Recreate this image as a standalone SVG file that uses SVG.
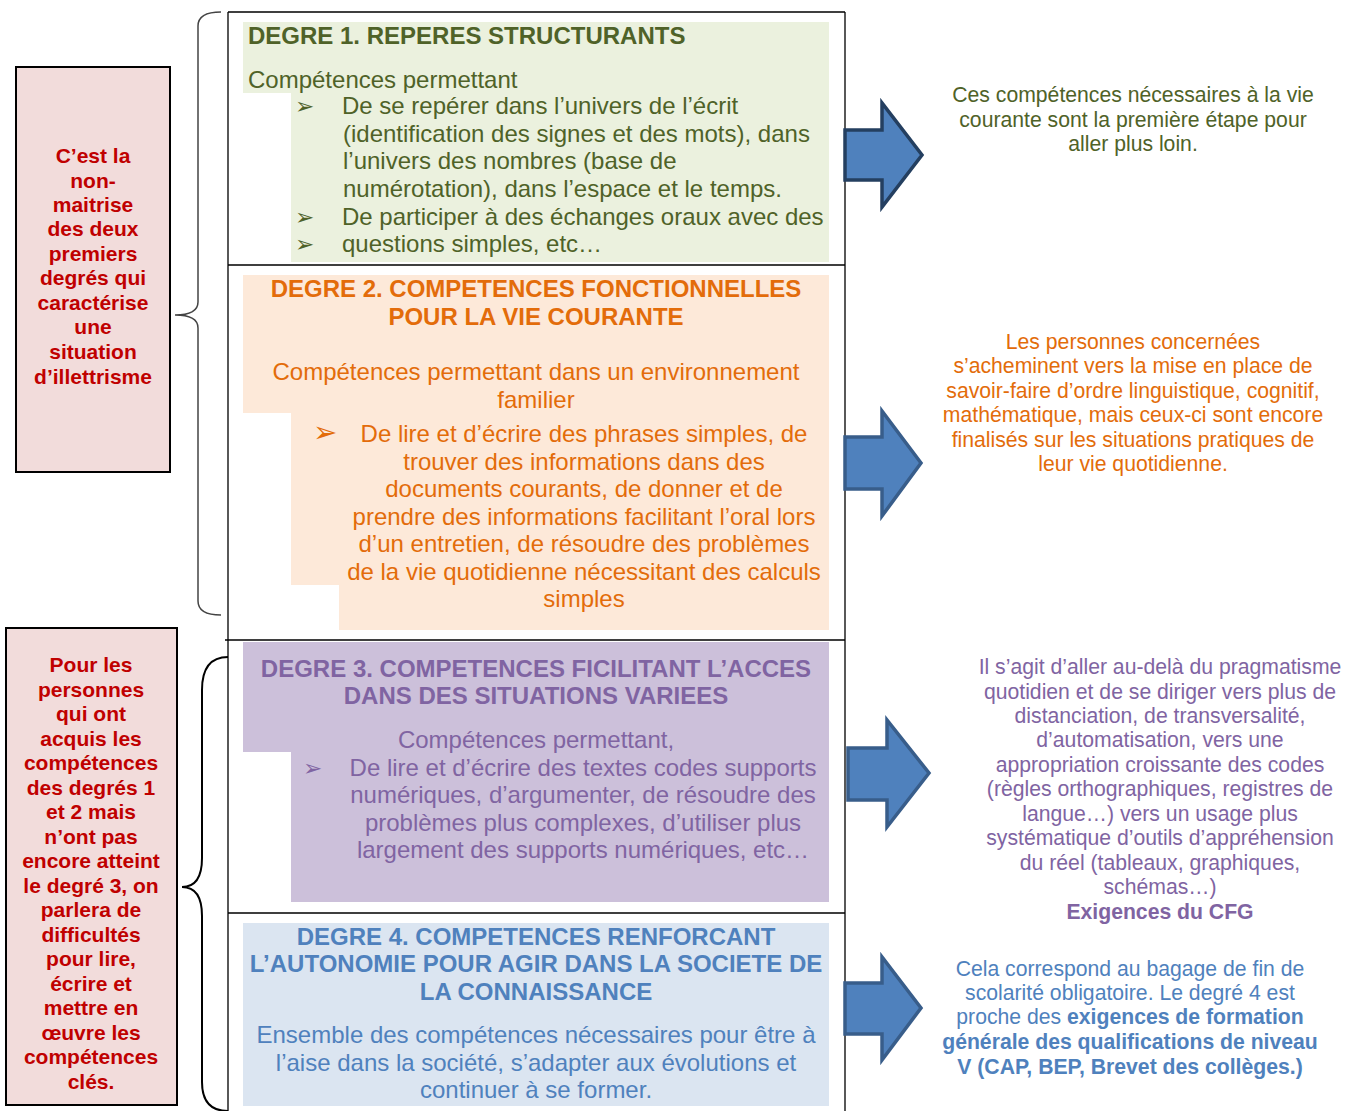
<svg xmlns="http://www.w3.org/2000/svg" width="1361" height="1111" viewBox="0 0 1361 1111">
<style>
text{font-family:"Liberation Sans",Arial,sans-serif}
.t{font-size:24px}
.h{font-size:24px;font-weight:bold}
.c{text-anchor:middle}
.r{font-size:21.2px;text-anchor:middle}
.l{font-size:21px;font-weight:bold;fill:#c00000;text-anchor:middle}
.bul{font-family:"DejaVu Sans",sans-serif;font-size:23px}
.g{fill:#4f6228}.o{fill:#e36c0a}.p{fill:#8064a2}.b{fill:#4f81bd}
.arrow{fill:#4f81bd;stroke:#385d8a;stroke-width:3.5;stroke-linejoin:miter}
.tbl{stroke:#000;stroke-width:1.3;fill:none}
</style>
<rect width="1361" height="1111" fill="#fff"/>

<g id="table-frame" class="tbl">
<path d="M228,12 H845 M228,12 V1111 M845,12 V1111 M228,265 H845 M225,640 H845 M228,913 H845"/>
</g>

<g id="degre1">
<path d="M243,22 H829 V262 H291 V93 H243 Z" fill="#ebf1de"/>
<text class="h g" x="248" y="44">DEGRE 1. REPERES STRUCTURANTS</text>
<text class="t g" x="248" y="88">Compétences permettant</text>
<text class="bul g" x="295" y="114">➢</text>
<text class="t g" x="342" y="114">De se repérer dans l’univers de l’écrit</text>
<text class="t g" x="343" y="142">(identification des signes et des mots), dans</text>
<text class="t g" x="343" y="169">l’univers des nombres (base de</text>
<text class="t g" x="343" y="197">numérotation), dans l’espace et le temps.</text>
<text class="bul g" x="295" y="225">➢</text>
<text class="t g" x="342" y="225">De participer à des échanges oraux avec des</text>
<text class="bul g" x="295" y="252">➢</text>
<text class="t g" x="342" y="252">questions simples, etc…</text>
</g>

<g id="degre2">
<path d="M243,275 H829 V630 H339 V585 H291 V413 H243 Z" fill="#fde9d9"/>
<text class="h o c" x="536" y="297">DEGRE 2. COMPETENCES FONCTIONNELLES</text>
<text class="h o c" x="536" y="325">POUR LA VIE COURANTE</text>
<text class="t o c" x="536" y="380">Compétences permettant dans un environnement</text>
<text class="t o c" x="536" y="408">familier</text>
<text class="bul o" x="313" y="442" style="font-size:29px">➢</text>
<text class="t o c" x="584" y="442">De lire et d’écrire des phrases simples, de</text>
<text class="t o c" x="584" y="470">trouver des informations dans des</text>
<text class="t o c" x="584" y="497">documents courants, de donner et de</text>
<text class="t o c" x="584" y="525">prendre des informations facilitant l’oral lors</text>
<text class="t o c" x="584" y="552">d’un entretien, de résoudre des problèmes</text>
<text class="t o c" x="584" y="580">de la vie quotidienne nécessitant des calculs</text>
<text class="t o c" x="584" y="607">simples</text>
</g>

<g id="degre3">
<path d="M243,642 H829 V902 H291 V752 H243 Z" fill="#ccc0da"/>
<text class="h p c" x="536" y="677">DEGRE 3. COMPETENCES FICILITANT L’ACCES</text>
<text class="h p c" x="536" y="704">DANS DES SITUATIONS VARIEES</text>
<text class="t p c" x="536" y="748">Compétences permettant,</text>
<text class="bul p" x="303" y="776">➢</text>
<text class="t p c" x="583" y="776">De lire et d’écrire des textes codes supports</text>
<text class="t p c" x="583" y="803">numériques, d’argumenter, de résoudre des</text>
<text class="t p c" x="583" y="831">problèmes plus complexes, d’utiliser plus</text>
<text class="t p c" x="583" y="858">largement des supports numériques, etc…</text>
</g>

<g id="degre4">
<rect x="243" y="923" width="586" height="183" fill="#dbe5f1"/>
<text class="h b c" x="536" y="945">DEGRE 4. COMPETENCES RENFORCANT</text>
<text class="h b c" x="536" y="972">L’AUTONOMIE POUR AGIR DANS LA SOCIETE DE</text>
<text class="h b c" x="536" y="1000">LA CONNAISSANCE</text>
<text class="t b c" x="536" y="1043">Ensemble des compétences nécessaires pour être à</text>
<text class="t b c" x="536" y="1071">l’aise dans la société, s’adapter aux évolutions et</text>
<text class="t b c" x="536" y="1098">continuer à se former.</text>
</g>

<g id="note-illettrisme">
<rect x="16" y="67" width="154" height="405" fill="#f2dcdb" stroke="#000" stroke-width="2"/>
<text class="l" x="93" y="163">C’est la</text>
<text class="l" x="93" y="188">non-</text>
<text class="l" x="93" y="212">maitrise</text>
<text class="l" x="93" y="236">des deux</text>
<text class="l" x="93" y="261">premiers</text>
<text class="l" x="93" y="285">degrés qui</text>
<text class="l" x="93" y="310">caractérise</text>
<text class="l" x="93" y="334">une</text>
<text class="l" x="93" y="359">situation</text>
<text class="l" x="93" y="384">d’illettrisme</text>
</g>

<g id="note-difficultes">
<rect x="6" y="628" width="171" height="477" fill="#f2dcdb" stroke="#000" stroke-width="2"/>
<text class="l" x="91" y="672">Pour les</text>
<text class="l" x="91" y="697">personnes</text>
<text class="l" x="91" y="721">qui ont</text>
<text class="l" x="91" y="746">acquis les</text>
<text class="l" x="91" y="770">compétences</text>
<text class="l" x="91" y="795">des degrés 1</text>
<text class="l" x="91" y="819">et 2 mais</text>
<text class="l" x="91" y="844">n’ont pas</text>
<text class="l" x="91" y="868">encore atteint</text>
<text class="l" x="91" y="893">le degré 3, on</text>
<text class="l" x="91" y="917">parlera de</text>
<text class="l" x="91" y="942">difficultés</text>
<text class="l" x="91" y="966">pour lire,</text>
<text class="l" x="91" y="991">écrire et</text>
<text class="l" x="91" y="1015">mettre en</text>
<text class="l" x="91" y="1040">œuvre les</text>
<text class="l" x="91" y="1064">compétences</text>
<text class="l" x="91" y="1089">clés.</text>
</g>

<g id="comment1">
<text class="r g" x="1133" y="102">Ces compétences nécessaires à la vie</text>
<text class="r g" x="1133" y="127">courante sont la première étape pour</text>
<text class="r g" x="1133" y="151">aller plus loin.</text>
</g>

<g id="comment2">
<text class="r o" x="1133" y="349">Les personnes concernées</text>
<text class="r o" x="1133" y="373">s’acheminent vers la mise en place de</text>
<text class="r o" x="1133" y="398">savoir-faire d’ordre linguistique, cognitif,</text>
<text class="r o" x="1133" y="422">mathématique, mais ceux-ci sont encore</text>
<text class="r o" x="1133" y="447">finalisés sur les situations pratiques de</text>
<text class="r o" x="1133" y="471">leur vie quotidienne.</text>
</g>

<g id="comment3">
<text class="r p" x="1160" y="674">Il s’agit d’aller au-delà du pragmatisme</text>
<text class="r p" x="1160" y="699">quotidien et de se diriger vers plus de</text>
<text class="r p" x="1160" y="723">distanciation, de transversalité,</text>
<text class="r p" x="1160" y="747">d’automatisation, vers une</text>
<text class="r p" x="1160" y="772">appropriation croissante des codes</text>
<text class="r p" x="1160" y="796">(règles orthographiques, registres de</text>
<text class="r p" x="1160" y="821">langue…) vers un usage plus</text>
<text class="r p" x="1160" y="845">systématique d’outils d’appréhension</text>
<text class="r p" x="1160" y="870">du réel (tableaux, graphiques,</text>
<text class="r p" x="1160" y="894">schémas…)</text>
<text class="r p" x="1160" y="919" font-weight="bold">Exigences du CFG</text>
</g>

<g id="comment4">
<text class="r b" x="1130" y="976">Cela correspond au bagage de fin de</text>
<text class="r b" x="1130" y="1000">scolarité obligatoire. Le degré 4 est</text>
<text class="r b" x="1130" y="1024">proche des <tspan font-weight="bold">exigences de formation</tspan></text>
<text class="r b" x="1130" y="1049" font-weight="bold">générale des qualifications de niveau</text>
<text class="r b" x="1130" y="1074" font-weight="bold">V (CAP, BEP, Brevet des collèges.)</text>
</g>

<g id="connectors">
<path d="M221,12 Q198,12 198,26 L198,302 Q198,315 175,315 Q198,315 198,328 L198,601 Q198,615 221,615" fill="none" stroke="#444" stroke-width="1.5"/>
<path d="M228,657 Q202,657 202,690 L202,858 Q202,887 182,887 Q202,887 202,916 L202,1082 Q202,1111 228,1111" fill="none" stroke="#000" stroke-width="2"/>
<polygon class="arrow" style="stroke:#243f60" points="845,130 882,130 882,103 922,155 882,207 882,180 845,180"/>
<polygon class="arrow" points="845,437 882,437 882,411 921,463 882,516 882,489 845,489"/>
<polygon class="arrow" points="848,748 887,748 887,720 929,773 887,827 887,800 848,800"/>
<polygon class="arrow" points="845,983 882,983 882,957 921,1008 882,1060 882,1034 845,1034"/>
</g>
</svg>
